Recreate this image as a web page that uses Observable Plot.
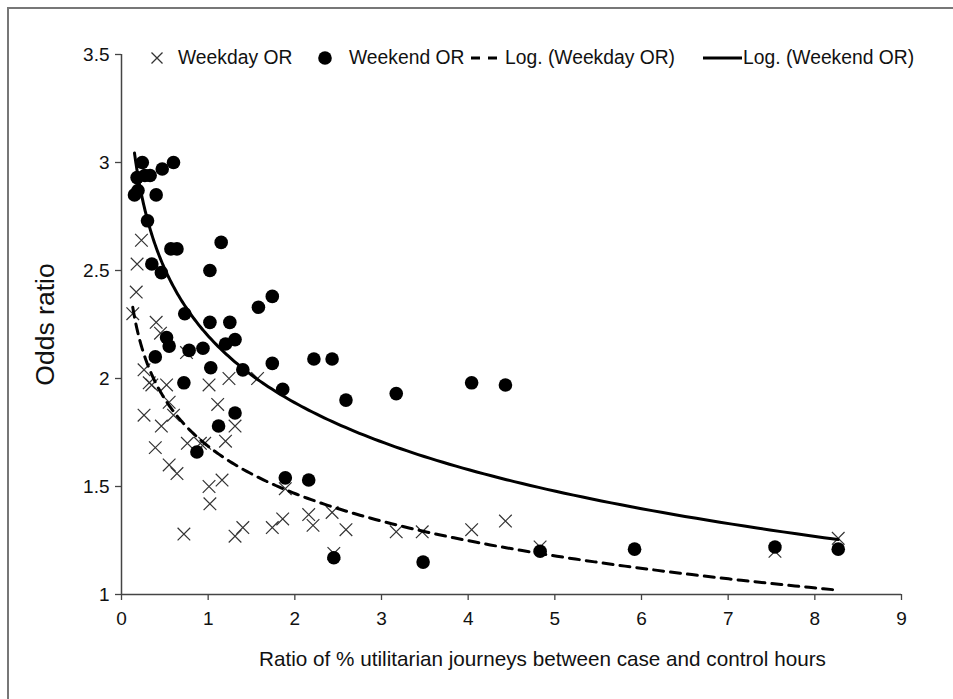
<!DOCTYPE html>
<html>
<head>
<meta charset="utf-8">
<script src="https://cdn.jsdelivr.net/npm/d3@7"></script>
<script src="https://cdn.jsdelivr.net/npm/@observablehq/plot@0.6"></script>
<style>
  html, body { margin: 0; padding: 0; background: #fff; }
  #wrap { position: relative; width: 953px; height: 699px; overflow: hidden; background: #fff; }
  #frame { position: absolute; left: 7px; top: 7px; width: 1000px; height: 1000px; border-left: 2px solid #777; border-top: 2px solid #777; pointer-events: none; }
  #legend { position: absolute; left: 0; top: 0; width: 953px; height: 80px; font-family: 'Liberation Sans', Arial, sans-serif; font-size: 19.3px; color: #111; }
  #legend .t { position: absolute; top: 47px; line-height: 22px; white-space: nowrap; }
  #legend svg { position: absolute; overflow: visible; }
</style>
</head>
<body>
<div id="wrap">
  <div id="chart"></div>
  <div id="legend"></div>
  <div id="frame"></div>
</div>
<script>
// ---- data ----
const weekdayX = [0.13,0.17,0.18,0.23,0.40,0.45,0.75,0.26,0.32,0.35,0.52,1.01,1.24,1.57,0.26,0.55,0.60,1.11,0.46,1.31,0.39,0.76,0.91,0.96,1.20,0.55,0.64,1.01,1.16,1.02,0.72,1.31,1.40,1.89,1.74,1.86,2.16,2.21,2.43,2.59,2.45,3.17,3.47,4.04,4.43,4.83,7.54,8.27];
const weekdayY = [2.30,2.40,2.53,2.64,2.26,2.21,2.12,2.04,1.98,1.97,1.97,1.97,2.00,2.00,1.83,1.89,1.83,1.88,1.78,1.78,1.68,1.70,1.70,1.70,1.71,1.60,1.56,1.50,1.53,1.42,1.28,1.27,1.31,1.49,1.31,1.35,1.37,1.32,1.38,1.30,1.19,1.29,1.29,1.30,1.34,1.22,1.20,1.26];
const weekendX = [0.15,0.19,0.18,0.24,0.27,0.33,0.47,0.60,0.40,0.30,0.57,0.64,1.15,0.35,0.46,1.02,0.73,1.02,1.25,0.52,0.55,1.20,1.31,0.78,0.94,0.39,1.40,1.03,0.72,1.31,1.12,0.87,1.74,1.58,1.74,2.22,2.43,1.86,2.59,1.89,2.16,3.17,4.04,4.43,2.45,3.48,4.83,5.92,7.54,8.27];
const weekendY = [2.85,2.87,2.93,3.00,2.94,2.94,2.97,3.00,2.85,2.73,2.60,2.60,2.63,2.53,2.49,2.50,2.30,2.26,2.26,2.19,2.15,2.16,2.18,2.13,2.14,2.10,2.04,2.05,1.98,1.84,1.78,1.66,2.38,2.33,2.07,2.09,2.09,1.95,1.90,1.54,1.53,1.93,1.98,1.97,1.17,1.15,1.20,1.21,1.22,1.21];
const xTicks = [0,1,2,3,4,5,6,7,8,9];
const yTicks = [1,1.5,2,2.5,3,3.5];
const seriesNames = ["Weekday OR","Weekend OR","Log. (Weekday OR)","Log. (Weekend OR)"];
const xTitle = "Ratio of % utilitarian journeys between case and control hours";
const yTitle = "Odds ratio";

// ---- derived tables ----
const weekday = weekdayX.map((x, i) => ({x, y: weekdayY[i]}));
const weekend = weekendX.map((x, i) => ({x, y: weekendY[i]}));

// logarithmic trendline (least squares y = a ln x + b), like the spreadsheet's
function logTrend(xs, ys) {
  const lx = xs.map(Math.log);
  const mx = d3.mean(lx), my = d3.mean(ys);
  let sxy = 0, sxx = 0;
  for (let i = 0; i < xs.length; i++) { sxy += (lx[i] - mx) * (ys[i] - my); sxx += (lx[i] - mx) ** 2; }
  const a = sxy / sxx, b = my - a * mx;
  const [x0, x1] = d3.extent(xs);
  return d3.range(0, 201).map(i => { const x = x0 * Math.pow(x1 / x0, i / 200); return {x, y: a * Math.log(x) + b}; });
}
const weekdayTrend = logTrend(weekdayX, weekdayY);
const weekendTrend = logTrend(weekendX, weekendY);

const font = "'Liberation Sans', Arial, sans-serif";
const chart = Plot.plot({
  width: 953, height: 699,
  marginLeft: 121, marginRight: 52, marginTop: 54, marginBottom: 105,
  style: {fontFamily: font, fontSize: "19px", color: "#111", background: "#fff"},
  x: {domain: [0, 9]},
  y: {domain: [1, 3.5]},
  marks: [
    Plot.axisY({ticks: yTicks, tickSize: 6, tickPadding: 6, stroke: "#444", strokeWidth: 1.3, label: null, tickFormat: d => String(d)}),
    Plot.axisX({ticks: xTicks, tickSize: 6, tickPadding: 11, stroke: "#444", strokeWidth: 1.3, label: null, tickFormat: d => String(d)}),
    Plot.ruleX([0], {stroke: "#444", strokeWidth: 1.5}),
    Plot.ruleY([1], {stroke: "#444", strokeWidth: 1.5}),
    Plot.dot(weekday, {x: "x", y: "y", symbol: "times", r: 5.8, stroke: "#333", strokeWidth: 1.2}),
    Plot.dot(weekend, {x: "x", y: "y", r: 6.8, fill: "#000", stroke: null}),
    Plot.line(weekdayTrend, {x: "x", y: "y", stroke: "#000", strokeWidth: 3, strokeDasharray: "10,7"}),
    Plot.line(weekendTrend, {x: "x", y: "y", stroke: "#000", strokeWidth: 3}),
    Plot.text([yTitle], {frameAnchor: "left", textAnchor: "middle", rotate: -90, dx: -76, fontSize: 26.5, fill: "#111"}),
    Plot.text([xTitle], {frameAnchor: "bottom", textAnchor: "middle", dy: 71, dx: 31, fontSize: 20.7, fill: "#111"})
  ]
});
document.getElementById("chart").appendChild(chart);

// ---- legend (inside plot area, top) ----
const legend = document.getElementById("legend");
const cy = 58;
function addText(label, left) {
  const d = document.createElement("div");
  d.className = "t"; d.style.left = left + "px"; d.textContent = label;
  legend.appendChild(d);
}
function addSvg(inner, left, w) {
  const ns = "http://www.w3.org/2000/svg";
  const s = document.createElementNS(ns, "svg");
  s.setAttribute("width", w); s.setAttribute("height", 20);
  s.style.left = left + "px"; s.style.top = (cy - 10) + "px";
  s.innerHTML = inner;
  legend.appendChild(s);
}
addSvg('<path d="M-5.5,-5.5L5.5,5.5M5.5,-5.5L-5.5,5.5" transform="translate(7,10)" stroke="#333" stroke-width="1.3"/>', 150, 14);
addText(seriesNames[0], 178);
addSvg('<circle cx="7" cy="10" r="6.8" fill="#000"/>', 318, 14);
addText(seriesNames[1], 349);
addSvg('<line x1="0" y1="10" x2="26" y2="10" stroke="#000" stroke-width="3" stroke-dasharray="9,8"/>', 471, 26);
addText(seriesNames[2], 505);
addSvg('<line x1="0" y1="10" x2="39" y2="10" stroke="#000" stroke-width="3"/>', 703, 39);
addText(seriesNames[3], 743);
</script>
</body>
</html>
